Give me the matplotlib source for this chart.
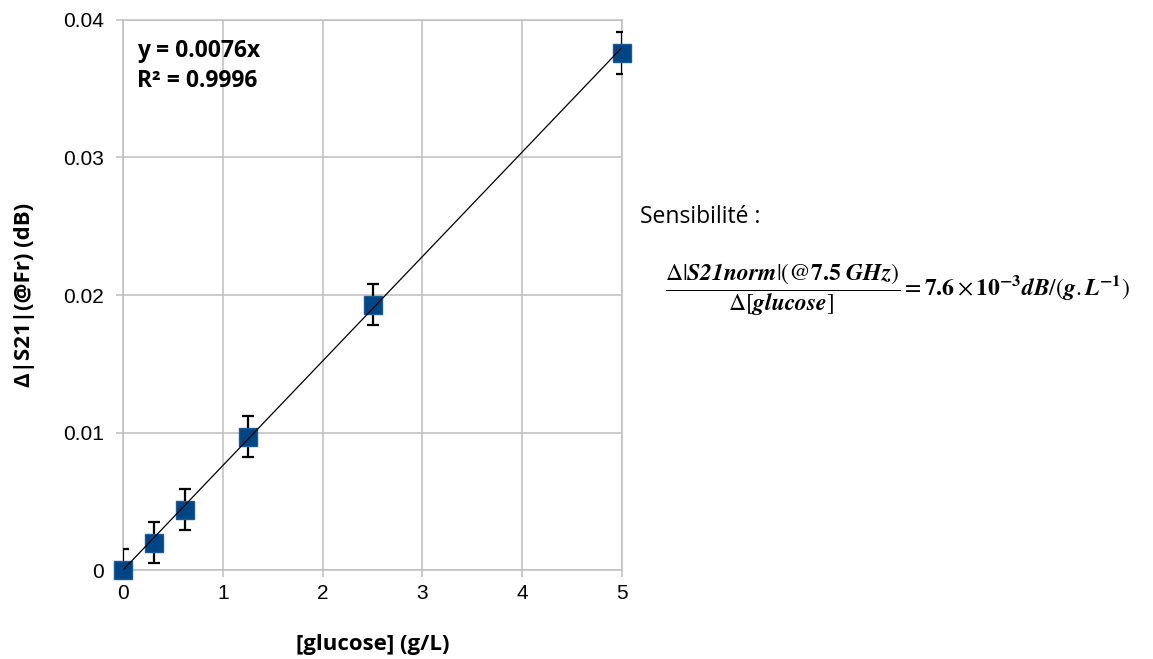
import numpy as np
import matplotlib.pyplot as plt

# donnees
glucose = [0, 0.3125, 0.625, 1.25, 2.5, 5]
ds21 = [0.0, 0.0020, 0.0044, 0.0097, 0.0193, 0.0376]
err = [0.0015, 0.0015, 0.0015, 0.0015, 0.0015, 0.0015]
pente = 0.0076
xticks = [0, 1, 2, 3, 4, 5]
yticks = [0, 0.01, 0.02, 0.03, 0.04]
ytick_labels = ['0', '0.01', '0.02', '0.03', '0.04']

plt.rcParams['mathtext.fontset'] = 'stix'

fig = plt.figure(figsize=(11.53, 6.59), dpi=100)
ax = fig.add_axes([0.1067, 0.135, 0.4328, 0.8347])

gris = '#BFBFBF'
ax.grid(True, color=gris, lw=1.1)
ax.set_axisbelow(True)
for s in ax.spines.values():
    s.set_color(gris)
    s.set_linewidth(1.1)
ax.tick_params(colors=gris, length=5, width=1.1, labelcolor='black', labelsize=15)
ax.tick_params(axis='y', pad=8.5)
ax.tick_params(axis='x', pad=5)

ax.errorbar(glucose, ds21, yerr=err, fmt='none', ecolor='black', elinewidth=1.6,
            capsize=4, capthick=1.6, zorder=4)
ax.plot(glucose, ds21, 's', color='#004586', mec='#1a5a96', markersize=13, zorder=5, clip_on=False)
# droite de tendance
xl = np.array([0, 5])
ax.plot(xl, pente * xl, color='black', lw=0.9, zorder=6)

ax.set_xlim(0, 5)
ax.set_ylim(0, 0.04)
ax.set_xticks(xticks)
ax.set_yticks(yticks)
ax.set_yticklabels(ytick_labels)
for lab in ax.get_xticklabels() + ax.get_yticklabels():
    lab.set_family('Liberation Sans')

ax.set_xlabel('[glucose] (g/L)', fontsize=16, fontweight='bold', family='Open Sans', va='center')
ax.xaxis.set_label_coords(0.5, -0.1345)
ax.set_ylabel('Δ|S21|(@Fr) (dB)', fontsize=16, fontweight='bold', family='Open Sans', va='center')
ax.yaxis.set_label_coords(-0.198, 0.5)

ax.text(0.028, 0.9327, 'y = 0.0076x', transform=ax.transAxes, fontsize=16.5,
        fontweight='bold', family='Open Sans', va='baseline', ha='left')
ax.text(0.028, 0.8782, 'R² = 0.9996', transform=ax.transAxes, fontsize=16.5,
        fontweight='bold', family='Open Sans', va='baseline', ha='left')

fig.text(0.555, 0.6616, 'Sensibilité :', fontsize=16.5, family='Open Sans', va='baseline')
formule = (r'$\dfrac{\Delta|\mathbfit{S21norm}|(@\mathbf{7.5}\ \mathbfit{GHz})}{\Delta[\mathbfit{glucose}]}'
           r' = \mathbf{7.6}\times\mathbf{10}^{\mathbf{-3}}\mathbfit{dB}/(\mathbfit{g}.\mathbfit{L}^{\mathbf{-1}})$')
fig.text(0.5768, 0.5595, formule, fontsize=17, va='center', ha='left')

fig.savefig('out.png', dpi=100)
